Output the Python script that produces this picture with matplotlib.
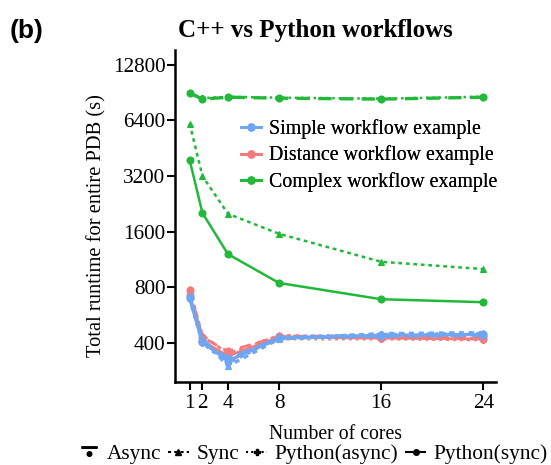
import matplotlib
matplotlib.use("Agg")
import matplotlib.pyplot as plt
from matplotlib.lines import Line2D
from matplotlib.path import Path
from matplotlib.ticker import FixedLocator, FixedFormatter, NullLocator

cores = [1, 2, 4, 8, 16, 24]
simple_async = [700, 405, 320, 425, 440, 445]
simple_sync = [720, 420, 300, 420, 450, 455]
simple_py_async = [690, 400, 310, 430, 445, 450]
simple_py_sync = [710, 410, 330, 425, 435, 440]
distance_async = [730, 410, 340, 430, 425, 420]
distance_sync = [785, 440, 350, 440, 430, 425]
distance_py_async = [760, 420, 320, 420, 420, 415]
distance_py_sync = [770, 430, 360, 435, 435, 430]
complex_async = [3900, 2020, 1210, 845, 690, 665]
complex_sync = [6150, 3200, 2000, 1560, 1100, 1005]
complex_py_async = [9050, 8450, 8600, 8500, 8400, 8600]
complex_py_sync = [9000, 8350, 8550, 8450, 8350, 8550]
yticks = [400, 800, 1600, 3200, 6400, 12800]
workflow_labels = ["Simple workflow example", "Distance workflow example", "Complex workflow example"]
style_labels = ["Async", "Sync", "Python(async)", "Python(sync)"]

BLUE = "#6fa6f2"
RED = "#f27b7b"
GREEN = "#22b83a"

plt.rcParams['font.family'] = ['Liberation Serif', 'DejaVu Serif']

fig = plt.figure(figsize=(5.51, 4.65), dpi=100)
W, H = 551, 465
ax = fig.add_axes([175 / W, 1 - 382 / H, (496 - 175) / W, (382 - 50) / H])

styles = {
    "async": dict(ls='-', marker='o'),
    "sync": dict(ls=(0, (1.5, 1.5)), marker='^'),
    "py_async": dict(ls=(0, (1, 1.5)), marker='P'),
    "py_sync": dict(ls=(0, (4, 2.5)), marker='o'),
}

def draw(vals, color, key, lw, ms):
    st = styles[key]
    ax.plot(cores, vals, color=color, lw=lw, ls=st['ls'], marker=st['marker'],
            ms=ms, markeredgewidth=0.8, clip_on=False)

for vals, key in [(distance_async, "async"), (distance_sync, "sync"),
                  (distance_py_async, "py_async"), (distance_py_sync, "py_sync")]:
    draw(vals, RED, key, 2.0, 5)
for vals, key in [(simple_async, "async"), (simple_sync, "sync"),
                  (simple_py_async, "py_async"), (simple_py_sync, "py_sync")]:
    draw(vals, BLUE, key, 2.4, 5)
for vals, key in [(complex_async, "async"), (complex_sync, "sync"),
                  (complex_py_async, "py_async"), (complex_py_sync, "py_sync")]:
    draw(vals, GREEN, key, 1.8 if key != "py_sync" else 2.4, 5)

ax.set_yscale('log', base=2)
ax.set_ylim(246, 15400)
ax.set_xlim(-0.15, 25.0)
ax.yaxis.set_major_locator(FixedLocator(yticks))
ax.yaxis.set_major_formatter(FixedFormatter([str(v) for v in yticks]))
ax.yaxis.set_minor_locator(NullLocator())
ax.set_xticks(cores)
ax.set_xticklabels([str(c) for c in cores])

for s in ['top', 'right']:
    ax.spines[s].set_visible(False)
ax.spines['left'].set_linewidth(1.8)
ax.spines['bottom'].set_linewidth(1.8)
ax.tick_params(axis='both', direction='out', length=5.5, width=1.5, labelsize=15.3)
ax.tick_params(axis='y', pad=1.5)
ax.tick_params(axis='x', pad=3)

ax.set_xlabel("Number of cores", fontsize=14.2, labelpad=9)
ax.set_ylabel("Total runtime for entire PDB (s)", fontsize=14.8)
ax.yaxis.set_label_coords(-0.215, 0.47)

fig.text(315 / W, 1 - 37 / H, "C++ vs Python workflows", fontsize=18, fontweight='bold',
         ha='center', va='baseline')
fig.text(10 / W, 1 - 31 / H, "(b)", fontsize=19, fontweight='bold', family='Liberation Sans',
         va='center', ha='left')

h_in = [Line2D([], [], color=c, lw=2, marker='o', ms=5) for c in (BLUE, RED, GREEN)]
leg1 = ax.legend(h_in, workflow_labels, loc='upper left', bbox_to_anchor=(231 / W, 1 - 109 / H),
                 bbox_transform=fig.transFigure, frameon=False, fontsize=14.3,
                 handlelength=1.0, handletextpad=0.4, labelspacing=0.34, borderpad=0)
ax.add_artist(leg1)

bar = Path([(-1, 0.55), (1, 0.55), (1, 0.75), (-1, 0.75), (-1, 0.55)],
           [Path.MOVETO, Path.LINETO, Path.LINETO, Path.LINETO, Path.CLOSEPOLY])
async_marker = Path.make_compound_path(bar, Path.circle((0, -0.2), 0.3))
h_st = [Line2D([], [], color='black', ls='none', marker=async_marker, ms=11)]
h_st += [Line2D([], [], color='black', lw=1.5, ls=styles[k]['ls'], marker=styles[k]['marker'], ms=4)
         for k in ("sync", "py_async", "py_sync")]
fig.legend(h_st, style_labels, loc='center', bbox_to_anchor=(313 / W, 1 - 454 / H), ncol=4,
           frameon=False, fontsize=15.4, handlelength=1.0, handletextpad=0.35, columnspacing=0.3,
           borderpad=0)

fig.savefig("out.png", dpi=100)
